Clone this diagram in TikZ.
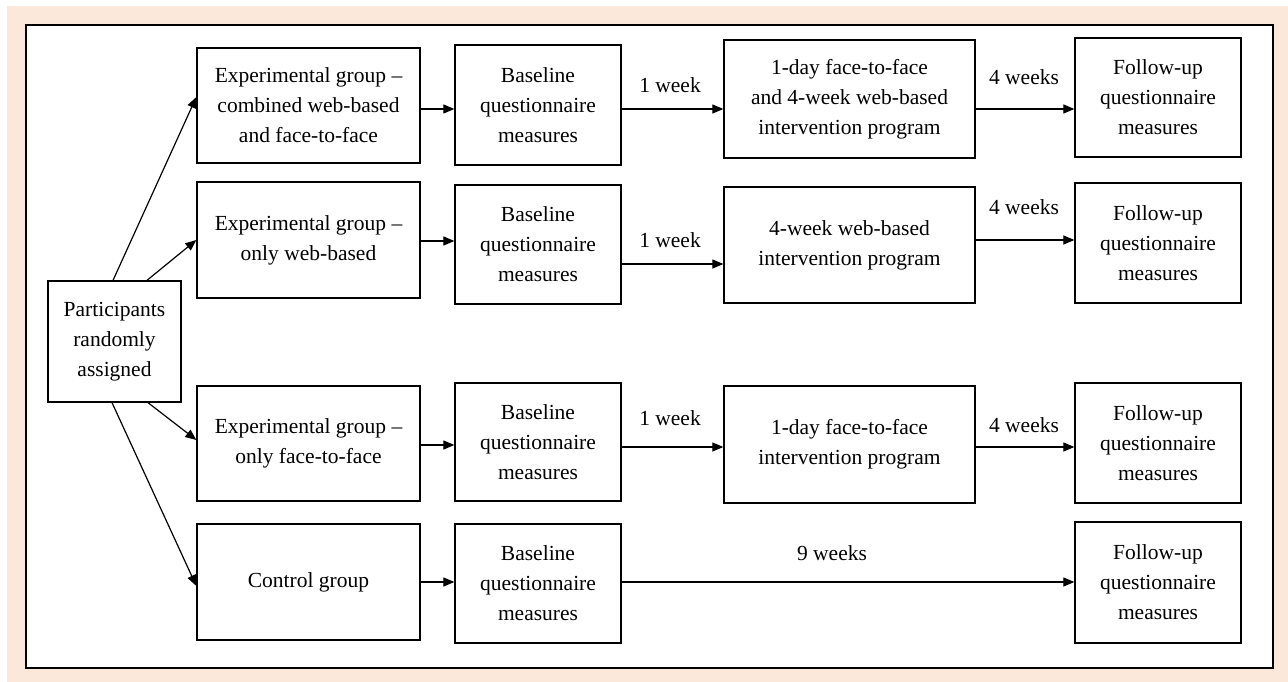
\documentclass[tikz,border=0pt]{standalone}
\usepackage{fontspec}
\setmainfont{Liberation Serif}
\newfontfamily\tnr[Ligatures=TeX]{Liberation Serif}
\usetikzlibrary{arrows.meta}
\definecolor{peach}{RGB}{252,232,218}
\newcommand\mybox[6]{\node[box,minimum width={(#4-#2)*1pt},minimum height={(#5-#3)*1pt}] (#1) at ({(#2+#4)/2},{(#3+#5)/2}) {#6};}
\begin{document}
\begin{tikzpicture}[x=1pt,y=-1pt,
  box/.style={draw=black, line width=1.3pt, fill=white, align=center, font=\tnr\fontsize{21.5}{30}\selectfont, inner sep=0pt},
  arr/.style={-{Triangle[length=11pt,width=9pt]}, line width=1.2pt},
  lbl/.style={font=\tnr\fontsize{21.5}{26}\selectfont, anchor=base}
]
\useasboundingbox (0,0) rectangle (1288,682);
\fill[white] (0,0) rectangle (1288,682);
\fill[peach] (7,6) rectangle (1288,682);
\draw[line width=2pt, fill=white] (26,25) rectangle (1273,668);

% participants
\mybox{p}{48}{281}{181}{402}{Participants\\randomly\\assigned}

% row 1
\mybox{e1}{197}{48}{420}{163}{Experimental group \textendash\\combined web-based\\and face-to-face}
\mybox{b1}{455}{45}{621}{165}{Baseline\\questionnaire\\measures}
\mybox{i1}{724}{40}{975}{158}{1-day face-to-face\\and 4-week web-based\\intervention program}
\mybox{f1}{1075}{38}{1241}{157}{Follow-up\\questionnaire\\measures}
% row 2
\mybox{e2}{197}{182}{420}{298}{Experimental group \textendash\\only web-based}
\mybox{b2}{455}{185}{621}{304}{Baseline\\questionnaire\\measures}
\mybox{i2}{724}{187}{975}{303}{4-week web-based\\intervention program}
\mybox{f2}{1075}{183}{1241}{303}{Follow-up\\questionnaire\\measures}
% row 3
\mybox{e3}{197}{386}{420}{501}{Experimental group \textendash\\only face-to-face}
\mybox{b3}{455}{383}{621}{501}{Baseline\\questionnaire\\measures}
\mybox{i3}{724}{386}{975}{503}{1-day face-to-face\\intervention program}
\mybox{f3}{1075}{383}{1241}{503}{Follow-up\\questionnaire\\measures}
% row 4
\mybox{c}{197}{524}{420}{640}{Control group}
\mybox{b4}{455}{524}{621}{643}{Baseline\\questionnaire\\measures}
\mybox{f4}{1075}{522}{1241}{643}{Follow-up\\questionnaire\\measures}

% y levels
\coordinate (ya) at (0,97);
\coordinate (yb) at (0,240);
\coordinate (yc) at (0,440);
\coordinate (yd) at (0,586);
\coordinate (r1) at (0,109);
\coordinate (r2a) at (0,241);
\coordinate (r2b) at (0,264);
\coordinate (r2c) at (0,240);
\coordinate (r3a) at (0,445);
\coordinate (r3b) at (0,447);
\coordinate (r4) at (0,582);

% participants arrows
\draw[arr] ([xshift=-1.5pt]p.north) -- (e1.west |- ya);
\draw[arr] ([xshift=32.5pt]p.north) -- (e2.west |- yb);
\draw[arr] ([xshift=33.5pt]p.south) -- (e3.west |- yc);
\draw[arr] ([xshift=-2.5pt]p.south) -- (c.west |- yd);

% row arrows
\draw[arr] (e1.east |- r1) -- (b1.west |- r1);
\draw[arr] (b1.east |- r1) -- (i1.west |- r1);
\draw[arr] (i1.east |- r1) -- (f1.west |- r1);
\draw[arr] (e2.east |- r2a) -- (b2.west |- r2a);
\draw[arr] (b2.east |- r2b) -- (i2.west |- r2b);
\draw[arr] (i2.east |- r2c) -- (f2.west |- r2c);
\draw[arr] (e3.east |- r3a) -- (b3.west |- r3a);
\draw[arr] (b3.east |- r3b) -- (i3.west |- r3b);
\draw[arr] (i3.east |- r3b) -- (f3.west |- r3b);
\draw[arr] (c.east |- r4) -- (b4.west |- r4);
\draw[arr] (b4.east |- r4) -- (f4.west |- r4);

% labels
\node[lbl] (w1) at (670,93) {1 week};
\node[lbl] (v1) at (1024,85) {4 weeks};
\node[lbl] (w2) at (670,247) {1 week};
\node[lbl] (v2) at (1024,214) {4 weeks};
\node[lbl] (w3) at (670,425) {1 week};
\node[lbl] (v3) at (1024,432) {4 weeks};
\node[lbl] (n4) at (832,560) {9 weeks};
\end{tikzpicture}
\end{document}
